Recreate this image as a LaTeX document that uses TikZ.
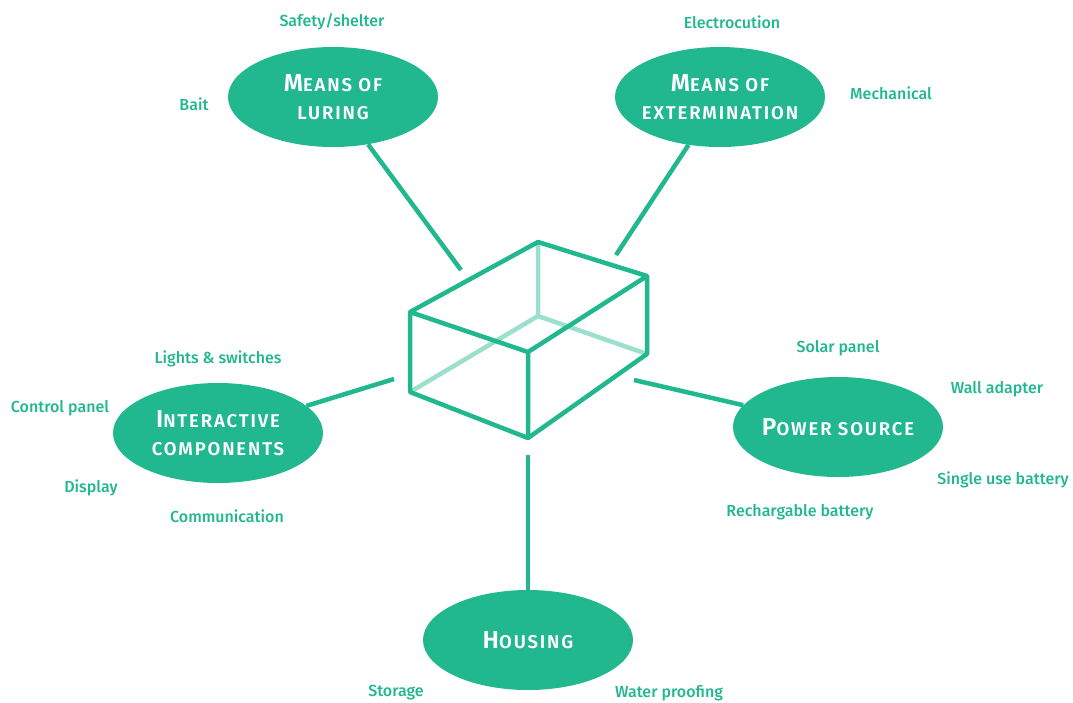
\documentclass[tikz,border=0pt]{standalone}
\usepackage{fontspec}
\setmainfont{Fira Sans}[UprightFont={* Medium},BoldFont={* SemiBold}]
\usepackage{tikz}
\usetikzlibrary{shapes.geometric}
\definecolor{jade}{RGB}{33,183,143}
\newcommand{\initial}[1]{{\fontsize{24.5}{28}\selectfont #1}}
\tikzset{%
    link/.style={jade,line width=4.5pt},
    hidden/.style={jade!45,line width=4.5pt}
}
\begin{document}
\begin{tikzpicture}[x=1pt,y=-1pt,line join=round,
  main node/.style={ellipse,fill=jade,text=white,minimum width=210pt,minimum height=100pt,
    inner xsep=-15pt,inner ysep=0pt,align=center,
    font=\fontsize{18.5}{28.5}\selectfont\bfseries\addfontfeatures{LetterSpace=10}},
  leaf node/.style={text=jade,inner sep=0pt,font=\fontsize{16}{19}\selectfont}]
  \useasboundingbox (0,0) rectangle (1073,702);

  % the box
  \coordinate (tb) at (538,242);
  \coordinate (tl) at (410,312);
  \coordinate (tf) at (528,352);
  \coordinate (tr) at (647,276);
  \coordinate (bb) at (538,316);
  \coordinate (bl) at (410,392);
  \coordinate (bf) at (528,438);
  \coordinate (br) at (647,354);
  \draw[hidden] (tb) -- (bb) (bl) -- (bb) -- (br);
  \draw[link] (tl) -- (tb) -- (tr) -- (tf) -- cycle
    (tl) -- (bl) -- (bf) -- (br) -- (tr) (tf) -- (bf);

  \node[main node] (lure) at (333,97) {\initial{M}EANS OF\\LURING};
  \node[main node] (kill) at (720,97) {\initial{M}EANS OF\\EXTERMINATION};
  \node[main node] (ui) at (218,433) {\initial{I}NTERACTIVE\\COMPONENTS};
  \node[main node] (power) at (838,427) {\initial{P}OWER SOURCE};
  \node[main node] (house) at (528,640) {\initial{H}OUSING};

  \coordinate (lure end) at (461,270);
  \coordinate (kill end) at (616,255);
  \coordinate (ui end) at (394,379);
  \coordinate (power end) at (634,380);
  \coordinate (house end) at (528,455);
\path[link]
  (lure end) edge (lure)
  (kill end) edge (kill)
  (ui end) edge (ui)
  (power end) edge (power)
  (house end) edge (house);

  \node[leaf node] (safety) at (332,22) {Safety/shelter};
  \node[leaf node] (bait) at (194,104) {Bait};
  \node[leaf node] (shock) at (732,22) {Electrocution};
  \node[leaf node] (mech) at (891,93) {Mechanical};
  \node[leaf node] (lights) at (218,359) {Lights \& switches};
  \node[leaf node] (panel) at (60,408) {Control panel};
  \node[leaf node] (display) at (91,488) {Display};
  \node[leaf node] (comm) at (227,516) {Communication};
  \node[leaf node] (solar) at (838,348) {Solar panel};
  \node[leaf node] (wall) at (997,389) {Wall adapter};
  \node[leaf node] (single) at (1003,480) {Single use battery};
  \node[leaf node] (recharge) at (800,512) {Rechargable battery};
  \node[leaf node] (storage) at (396,693) {Storage};
  \node[leaf node] (water) at (669,693) {Water proofing};
\end{tikzpicture}
\end{document}
